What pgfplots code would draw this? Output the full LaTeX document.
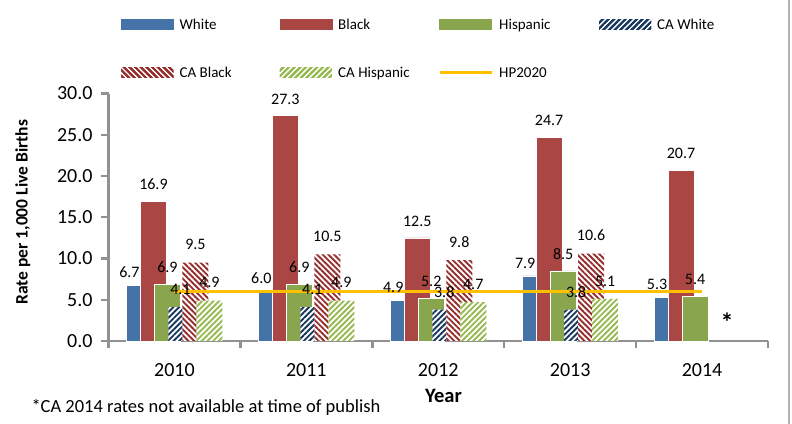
\documentclass[border=0pt]{standalone}
\usepackage{fontspec}
\setmainfont{Carlito}
\usepackage{pgfplots}
\pgfplotsset{compat=1.18}
\usetikzlibrary{patterns.meta}

\definecolor{cWhite}{RGB}{69,114,167}
\definecolor{cBlack}{RGB}{170,70,67}
\definecolor{cHisp}{RGB}{137,165,78}
\definecolor{cCAW}{RGB}{23,55,94}
\definecolor{cCAB}{RGB}{150,45,45}
\definecolor{cCAH}{RGB}{150,185,80}
\definecolor{cHP}{RGB}{255,192,0}
\definecolor{axgray}{RGB}{145,145,145}

\pgfplotstableread{
x y
0 6.7
1 6.0
2 4.9
3 7.9
4 5.3
}\tWhite
\pgfplotstableread{
x y
0 16.9
1 27.3
2 12.5
3 24.7
4 20.7
}\tBlack
\pgfplotstableread{
x y
0 6.9
1 6.9
2 5.2
3 8.5
4 5.4
}\tHisp
\pgfplotstableread{
x y
0 4.1
1 4.1
2 3.8
3 3.8
}\tCAW
\pgfplotstableread{
x y
0 9.5
1 10.5
2 9.8
3 10.6
}\tCAB
\pgfplotstableread{
x y
0 4.9
1 4.9
2 4.7
3 5.1
}\tCAH
\pgfplotstableread{
x y
0 6.0
1 6.0
2 6.0
3 6.0
4 6.0
}\tHP

\newcommand{\legtxt}[1]{\makebox[106bp][l]{\hspace*{6bp}#1}}

\begin{document}
\begin{tikzpicture}
\useasboundingbox (0,0) rectangle (792bp,424bp);
\fill[white] (0,0) rectangle (792bp,424bp);
\begin{axis}[
  at={(108.5bp,83bp)}, anchor=south west,
  scale only axis, width=659.5bp, height=247.5bp,
  xmin=-0.5, xmax=4.5, ymin=0, ymax=30,
  clip=false,
  axis x line*=bottom, axis y line*=left,
  axis line style={-, draw=axgray, line width=2.6bp},
  tick align=outside,
  tick style={draw=axgray, line width=2.4bp},
  major tick length=7.5bp,
  ytick={0,5,10,15,20,25,30},
  xtick={-0.5,0.5,1.5,2.5,3.5,4.5},
  xticklabels={},
  extra x ticks={0,1,2,3,4},
  extra x tick labels={2010,2011,2012,2013,2014},
  extra x tick style={major tick length=0pt},
  /pgf/number format/.cd, fixed, fixed zerofill, precision=1, assume math mode=true,
  /pgfplots/.cd,
  tick label style={font=\fontsize{20bp}{22bp}\selectfont, black},
  xticklabel style={anchor=base, yshift=-36bp},
  yticklabel style={xshift=-5bp},
  xlabel={\textbf{Year}},
  xlabel style={at={(axis description cs:0.508,-0.25)}, anchor=base, font=\fontsize{20.5bp}{22bp}\selectfont},
  ylabel={\textbf{Rate per 1,000 Live Births}},
  ylabel style={at={(axis description cs:-0.13,0.52)}, anchor=center, font=\fontsize{17.5bp}{19bp}\selectfont},
  every node near coord/.append style={font=\fontsize{16bp}{18bp}\selectfont, black},
  legend columns=4,
  legend cell align=left,
  legend style={at={(axis description cs:0.019,1.302)}, anchor=north west, draw=none, fill=none,
    inner sep=0pt, outer sep=0pt, nodes={inner sep=0pt, outer sep=0pt},
    row sep=36bp, column sep=0pt,
    font=\fontsize{15bp}{17bp}\selectfont},
]
\addplot[ybar, bar width=26bp, bar shift=-35bp, fill=cWhite, draw=white, line width=0.6bp,
  nodes near coords, every node near coord/.append style={xshift=-45bp, yshift=4bp},
  legend image code/.code={\fill[cWhite] (0bp,-4bp) rectangle (52bp,6bp);}]
  table[x=x,y=y] {\tWhite};
\addlegendentry{\legtxt{White}}
\addplot[ybar, bar width=26bp, bar shift=-21bp, fill=cBlack, draw=white, line width=0.6bp,
  nodes near coords, every node near coord/.append style={xshift=-21bp, yshift=8bp},
  legend image code/.code={\fill[cBlack] (0bp,-4bp) rectangle (52bp,6bp);}]
  table[x=x,y=y] {\tBlack};
\addlegendentry{\legtxt{Black}}
\addplot[ybar, bar width=26bp, bar shift=-7bp, fill=cHisp, draw=white, line width=0.6bp,
  nodes near coords, every node near coord/.append style={xshift=-7bp, yshift=8bp},
  legend image code/.code={\fill[cHisp] (0bp,-4bp) rectangle (52bp,6bp);}]
  table[x=x,y=y] {\tHisp};
\addlegendentry{\legtxt{Hispanic}}
\addplot[ybar, bar width=26bp, bar shift=7bp, fill=white, draw=none,
  postaction={pattern={Lines[angle=45,distance=4bp,line width=1.9bp]}, pattern color=cCAW},
  nodes near coords, every node near coord/.append style={xshift=6bp, yshift=9bp},
  legend image code/.code={\fill[white] (0bp,-4bp) rectangle (52bp,6bp);
    \fill[pattern={Lines[angle=45,distance=4bp,line width=1.9bp]}, pattern color=cCAW] (0bp,-4bp) rectangle (52bp,6bp);}]
  table[x=x,y=y] {\tCAW};
\addlegendentry{\legtxt{CA White}}
\addplot[ybar, bar width=26bp, bar shift=21bp, fill=white, draw=none,
  postaction={pattern={Lines[angle=-45,distance=4bp,line width=1.9bp]}, pattern color=cCAB},
  nodes near coords, every node near coord/.append style={xshift=21bp, yshift=9bp},
  legend image code/.code={\fill[white] (0bp,-4bp) rectangle (52bp,6bp);
    \fill[pattern={Lines[angle=-45,distance=4bp,line width=1.9bp]}, pattern color=cCAB] (0bp,-4bp) rectangle (52bp,6bp);}]
  table[x=x,y=y] {\tCAB};
\addlegendentry{\legtxt{CA Black}}
\addplot[ybar, bar width=26bp, bar shift=35bp, fill=white, draw=none,
  postaction={pattern={Lines[angle=45,distance=4bp,line width=1.9bp]}, pattern color=cCAH},
  nodes near coords, every node near coord/.append style={xshift=35bp, yshift=9bp},
  legend image code/.code={\fill[white] (0bp,-4bp) rectangle (52bp,6bp);
    \fill[pattern={Lines[angle=45,distance=4bp,line width=1.9bp]}, pattern color=cCAH] (0bp,-4bp) rectangle (52bp,6bp);}]
  table[x=x,y=y] {\tCAH};
\addlegendentry{\legtxt{CA Hispanic}}
\addplot[cHP, line width=3bp, mark=none,
  legend image code/.code={\draw[cHP, line width=3bp] (0bp,1bp) -- (52bp,1bp);}]
  table[x=x,y=y] {\tHP};
\addlegendentry{\legtxt{HP2020}}
\node[font=\fontsize{26bp}{26bp}\selectfont\bfseries] at (axis cs:4.19,2.3) {*};
\end{axis}
\node[anchor=base west, font=\fontsize{18.5bp}{20bp}\selectfont] at (28bp,12bp) {*CA 2014 rates not available at time of publish};
\draw[axgray!70, line width=1.5bp] (789bp,0) -- (789bp,424bp);
\end{tikzpicture}
\end{document}
